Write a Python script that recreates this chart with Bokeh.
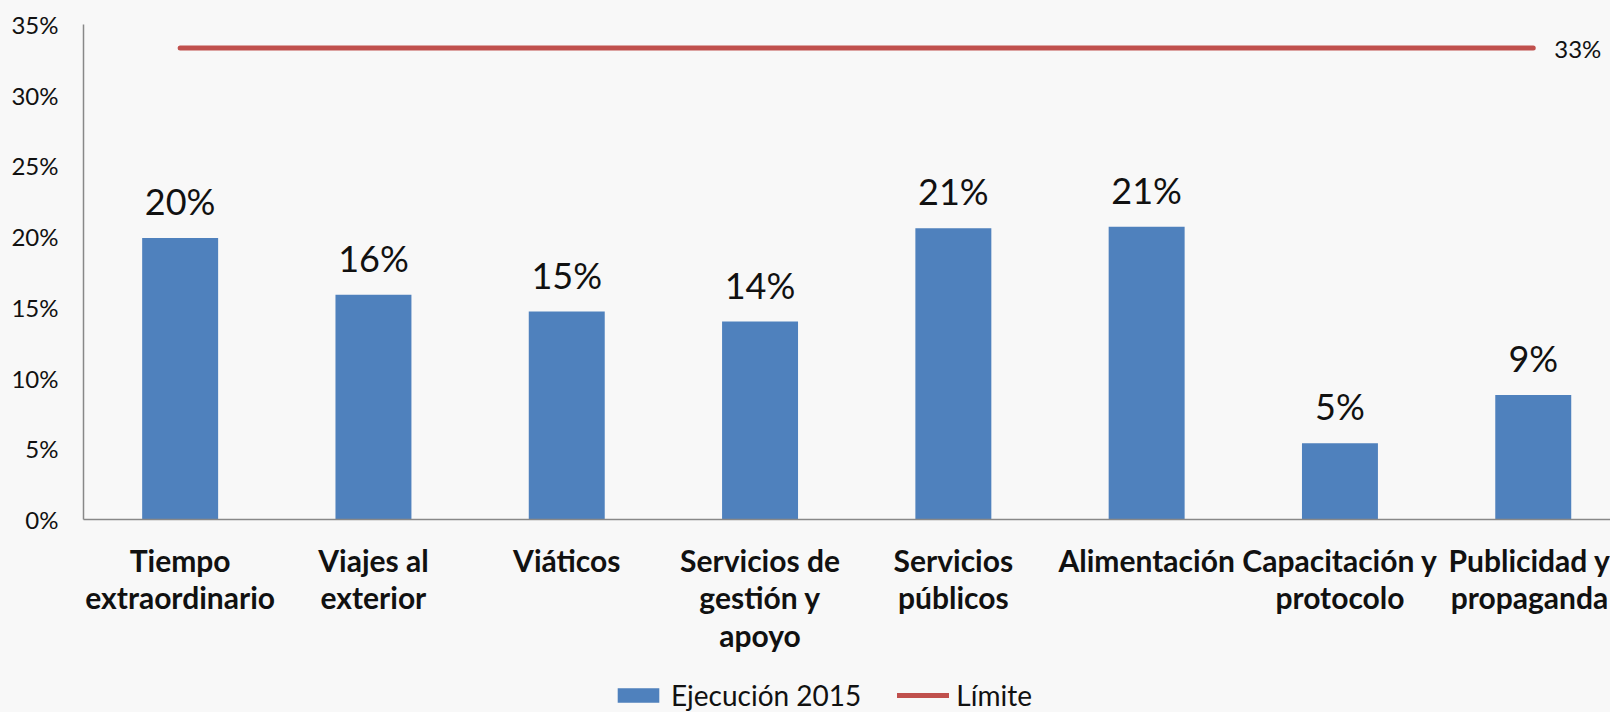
from bokeh.plotting import figure
from bokeh.layouts import column
from bokeh.models import (ColumnDataSource, LabelSet, Label, Legend, LegendItem,
                          FixedTicker, PrintfTickFormatter, Range1d)
from bokeh.core.properties import value
from bokeh.embed import file_html
from bokeh.resources import INLINE

# ---- data ----
categories = ["Tiempo\nextraordinario", "Viajes al\nexterior", "Viáticos",
              "Servicios de\ngestión y\napoyo", "Servicios\npúblicos", "Alimentación",
              "Capacitación y\nprotocolo", "Publicidad y\npropaganda"]
ejecucion_2015 = [19.9, 15.9, 14.7, 14.0, 20.6, 20.7, 5.4, 8.8]
limite = [33.33, 33.33, 33.33, 33.33, 33.33, 33.33, 33.33, 33.33]
limite_label = "33%"
y_ticks = [0, 5, 10, 15, 20, 25, 30, 35]
series_names = ["Ejecución 2015", "Límite"]

FONT = "Lato"
BLUE = "#4F81BD"
RED = "#C0504D"
BG = "#f8f8f8"

xs = list(range(len(categories)))
src = ColumnDataSource(dict(
    x=xs, top=ejecucion_2015, lim=limite,
    lbl=[f"{round(v)}%" for v in ejecucion_2015],
))

W, H1, H2 = 1610, 672, 40
p = figure(width=W, height=H1, output_backend="svg", toolbar_location=None,
           x_range=Range1d(-0.5, -0.5 + (W - 83) / 193.3), y_range=Range1d(0, 35),
           min_border_left=83, min_border_right=0, min_border_top=24,
           min_border_bottom=153)
p.background_fill_color = BG
p.border_fill_color = BG
p.outline_line_color = None
p.grid.visible = False

bar_style = dict(fill_color=BLUE, line_color=None)
line_style = dict(line_color=RED, line_width=5, line_cap="round")

p.vbar(x="x", top="top", width=0.393, source=src, **bar_style)
p.line(x="x", y="lim", source=src, **line_style)

labels = LabelSet(x="x", y="top", text="lbl", source=src, text_align="center",
                  text_baseline="alphabetic", y_offset=23,
                  text_font=value(FONT), text_font_size="36px", text_color="#111111")
p.add_layout(labels)

p.add_layout(Label(x=xs[-1], y=limite[-1], text=limite_label, x_offset=21,
                   text_align="left", text_baseline="middle", text_font=FONT,
                   text_font_size="24px", text_color="#111111"))

# axes
p.yaxis.ticker = FixedTicker(ticks=y_ticks)
p.yaxis.formatter = PrintfTickFormatter(format="%d%%")
p.yaxis.major_label_text_font = FONT
p.yaxis.major_label_text_font_size = "24px"
p.yaxis.major_label_text_color = "#111111"
p.yaxis.major_label_standoff = 19
p.yaxis.axis_line_color = "#888888"
p.yaxis.axis_line_width = 1.5
p.yaxis.major_tick_line_color = None
p.yaxis.minor_tick_line_color = None

p.xaxis.ticker = FixedTicker(ticks=xs)
p.xaxis.major_label_overrides = {i: c for i, c in zip(xs, categories)}
p.xaxis.major_label_text_font = FONT
p.xaxis.major_label_text_font_style = "bold"
p.xaxis.major_label_text_font_size = "30px"
p.xaxis.major_label_text_line_height = 1.05
p.xaxis.major_label_text_color = "#111111"
p.xaxis.major_label_standoff = 16
p.xaxis.axis_line_color = "#888888"
p.xaxis.axis_line_width = 1.5
p.xaxis.major_tick_line_color = None
p.xaxis.minor_tick_line_color = None

# ---- legend strip (renderers use the same data, drawn out of view) ----
lg = figure(width=W, height=H2, output_backend="svg", toolbar_location=None,
            x_range=Range1d(-200, -199), y_range=Range1d(-200, -199), min_border=0)
lg.axis.visible = False
lg.grid.visible = False
lg.outline_line_color = None
lg.background_fill_color = BG
lg.border_fill_color = BG
r_bar = lg.vbar(x="x", top="top", width=0.393, source=src, **bar_style)
r_line = lg.line(x="x", y="lim", source=src, **line_style)
legend = Legend(items=[LegendItem(label=series_names[0], renderers=[r_bar]),
                       LegendItem(label=series_names[1], renderers=[r_line])],
                orientation="horizontal", location=(529, 0),
                glyph_width=52, glyph_height=18, label_standoff=7, spacing=36,
                padding=0, margin=0, border_line_color=None,
                background_fill_alpha=0, label_text_font=FONT,
                label_text_font_size="28px", label_text_color="#111111")
lg.add_layout(legend, "center")

layout = column(p, lg, spacing=0)
layout.styles = {"background-color": BG}
open("out.html", "w").write(file_html(layout, INLINE))
